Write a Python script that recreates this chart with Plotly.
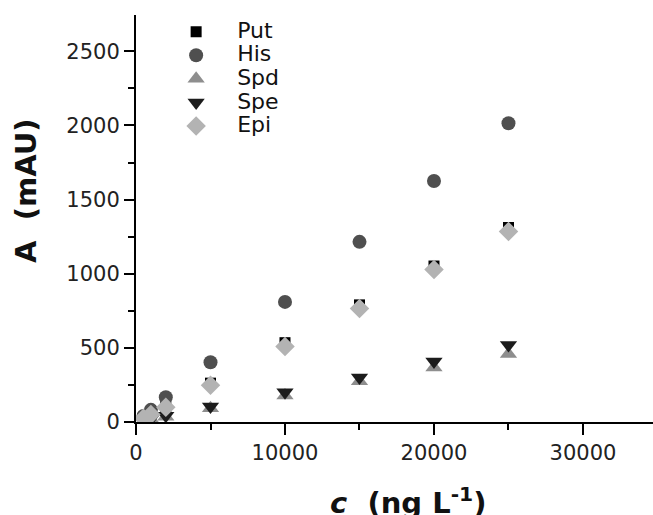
import plotly.graph_objects as go

conc = [500, 1000, 2000, 5000, 10000, 15000, 20000, 25000]
put = [26, 52, 105, 262, 535, 790, 1052, 1312]
his = [40, 82, 167, 403, 810, 1215, 1625, 2015]
spd = [9, 18, 35, 92, 178, 275, 368, 458]
spe = [10, 20, 42, 105, 200, 300, 408, 520]
epi = [25, 50, 100, 248, 510, 765, 1028, 1285]

series = [
    ("Put", put, "square", 11, "#000000"),
    ("His", his, "circle", 14, "#4f4f4f"),
    ("Spd", spd, "triangle-up", 15, "#8e8e8e"),
    ("Spe", spe, "triangle-down", 15, "#1c1c1c"),
    ("Epi", epi, "diamond", 15, "#b3b3b3"),
]

fig = go.Figure()
for name, vals, sym, size, col in series:
    fig.add_trace(go.Scatter(
        x=conc, y=vals, mode="markers",
        name="<span style='font-size:22px'>" + name + "</span>",
        marker=dict(symbol=sym, size=size, color=col, line=dict(width=0)),
    ))

font_main = "DejaVu Sans"

axis_common = dict(
    showline=True, linecolor="black", linewidth=2,
    ticks="outside", tickcolor="black", tickwidth=2,
    showgrid=False, zeroline=False,
    tickfont=dict(family=font_main, size=21, color="#222222"),
)

fig.update_xaxes(
    range=[0, 34700], tickvals=[0, 10000, 20000, 30000],
    ticktext=["0", "10000", "20000", "30000"], ticklen=11,
    minor=dict(tickvals=[5000, 15000, 25000], ticks="outside", ticklen=6,
               tickwidth=2, tickcolor="black"),
    **axis_common,
)
fig.update_yaxes(
    range=[0, 2745], tickvals=[0, 500, 1000, 1500, 2000, 2500], ticklen=10,
    minor=dict(tickvals=[250, 750, 1250, 1750, 2250], ticks="outside", ticklen=6,
               tickwidth=2, tickcolor="black"),
    **axis_common,
)

fig.update_layout(
    width=653, height=515,
    margin=dict(l=136, r=0, t=15, b=93),
    paper_bgcolor="white", plot_bgcolor="white",
    showlegend=True,
    legend=dict(
        x=0.037, y=1.0, xanchor="left", yanchor="top",
        bgcolor="rgba(0,0,0,0)", borderwidth=0,
        itemwidth=72,
        font=dict(family=font_main, size=15.8, color="#111111"),
    ),
    annotations=[
        dict(text="<b>A  (mAU)</b>", xref="paper", yref="paper",
             x=-0.2128, y=0.5676, xanchor="center", yanchor="middle",
             textangle=-90, showarrow=False,
             font=dict(family=font_main, size=29, color="#111111")),
        dict(text="<b><i>c</i>  (ng L<sup>-1</sup>)</b>", xref="paper", yref="paper",
             x=0.526, y=-0.142, xanchor="center", yanchor="top",
             showarrow=False,
             font=dict(family=font_main, size=29, color="#111111")),
    ],
)

fig.write_html(
    "out.html",
    config={"displayModeBar": False},
    post_script="document.body.style.margin='0px';document.body.style.overflow='hidden';",
)
